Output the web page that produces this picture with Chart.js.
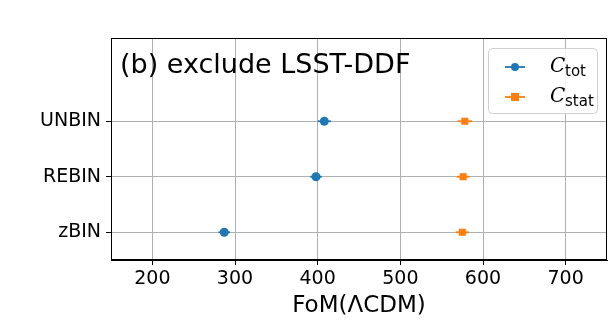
<!DOCTYPE html>
<html>
<head>
<meta charset="utf-8">
<script src="https://cdn.jsdelivr.net/npm/chart.js@4"></script>
<style>
  html, body { margin: 0; padding: 0; background: #fff; }
</style>
</head>
<body>
<canvas id="fom" width="616" height="328"></canvas>
<script>
// data
const categories = ["zBIN", "REBIN", "UNBIN"];
const totValues = [287, 398, 408];
const totErrors = [7, 7, 8];
const statValues = [575, 576, 578];
const statErrors = [8, 8, 9];
const xTicks = [200, 300, 400, 500, 600, 700];

const blue = "#1f77b4";
const orange = "#ff7f0e";
const font = "'DejaVu Sans', sans-serif";

// error bars, drawn through the chart scales
const errorBars = {
  id: "errorBars",
  beforeDatasetsDraw(chart) {
    const ctx = chart.ctx;
    const xs = chart.scales.x, ys = chart.scales.y;
    chart.data.datasets.forEach((ds) => {
      ctx.save();
      ctx.strokeStyle = ds.borderColor;
      ctx.lineWidth = 1.8;
      ds.data.forEach((p, i) => {
        const y = ys.getPixelForValue(p.y);
        ctx.beginPath();
        ctx.moveTo(xs.getPixelForValue(p.x - ds.xerr[i]), y);
        ctx.lineTo(xs.getPixelForValue(p.x + ds.xerr[i]), y);
        ctx.stroke();
      });
      ctx.restore();
    });
  },
  afterDraw(chart) {
    const ctx = chart.ctx;
    const a = chart.chartArea;
    ctx.save();
    // frame
    ctx.strokeStyle = "#000";
    ctx.lineWidth = 1;
    ctx.strokeRect(a.left + 0.5, a.top + 0.5, a.right - a.left - 1, a.bottom - a.top - 1);
    // panel title
    ctx.fillStyle = "#000";
    ctx.font = "27px " + font;
    ctx.textBaseline = "alphabetic";
    ctx.fillText("(b) exclude LSST-DDF", 120, 73);
    // legend
    const lx = 488, ly = 48, lw = 109, lh = 65;
    ctx.fillStyle = "rgba(255,255,255,0.85)";
    ctx.strokeStyle = "#d0d0d0";
    ctx.beginPath();
    ctx.roundRect(lx + 0.5, ly + 0.5, lw, lh, 4);
    ctx.fill();
    ctx.stroke();
    const rows = [
      { color: blue, sub: "tot", y: 67, shape: "circle" },
      { color: orange, sub: "stat", y: 97, shape: "square" }
    ];
    rows.forEach((r) => {
      ctx.strokeStyle = r.color;
      ctx.fillStyle = r.color;
      ctx.lineWidth = 1.8;
      ctx.beginPath();
      ctx.moveTo(505, r.y);
      ctx.lineTo(525, r.y);
      ctx.stroke();
      ctx.beginPath();
      if (r.shape === "circle") ctx.arc(515, r.y, 4, 0, Math.PI * 2);
      else ctx.rect(511, r.y - 4, 8, 8);
      ctx.fill();
      ctx.fillStyle = "#000";
      ctx.font = "italic 20px 'DejaVu Serif', serif";
      ctx.fillText("C", 550, r.y + 5);
      ctx.font = "15px " + font;
      ctx.fillText(r.sub, 565, r.y + 9);
    });
    ctx.restore();
  }
};

new Chart(document.getElementById("fom"), {
  type: "scatter",
  data: {
    datasets: [
      {
        label: "C_tot",
        data: totValues.map((v, i) => ({ x: v, y: i })),
        xerr: totErrors,
        backgroundColor: blue,
        borderColor: blue,
        pointStyle: "circle",
        pointRadius: 4.5,
        pointBorderWidth: 0
      },
      {
        label: "C_stat",
        data: statValues.map((v, i) => ({ x: v, y: i })),
        xerr: statErrors,
        backgroundColor: orange,
        borderColor: orange,
        pointStyle: "rect",
        pointRadius: 5,
        pointBorderWidth: 0
      }
    ]
  },
  options: {
    responsive: false,
    animation: false,
    layout: { padding: { top: 38, right: 9, left: 0, bottom: 0 } },
    plugins: { legend: { display: false }, tooltip: { enabled: false } },
    scales: {
      x: {
        type: "linear",
        min: 150,
        max: 750,
        afterBuildTicks: (s) => { s.ticks = xTicks.map((v) => ({ value: v })); },
        afterFit: (s) => { s.height = 68; },
        grid: { color: "#b0b0b0", lineWidth: 1, tickColor: "#000", tickLength: 5 },
        border: { color: "#000" },
        ticks: { color: "#000", font: { family: font, size: 19 }, padding: 3 },
        title: {
          display: true,
          text: "FoM(ΛCDM)",
          color: "#000",
          font: { family: font, size: 23 },
          padding: { top: 0, bottom: 8 }
        }
      },
      y: {
        type: "linear",
        min: -0.5,
        max: 3.5,
        afterBuildTicks: (s) => { s.ticks = categories.map((c, i) => ({ value: i })); },
        afterFit: (s) => { s.width = 111; },
        grid: { color: "#b0b0b0", lineWidth: 1, tickColor: "#000", tickLength: 5 },
        border: { color: "#000" },
        ticks: {
          color: "#000",
          font: { family: font, size: 19 },
          padding: 5,
          callback: (v) => categories[v]
        }
      }
    }
  },
  plugins: [errorBars]
});
</script>
</body>
</html>
